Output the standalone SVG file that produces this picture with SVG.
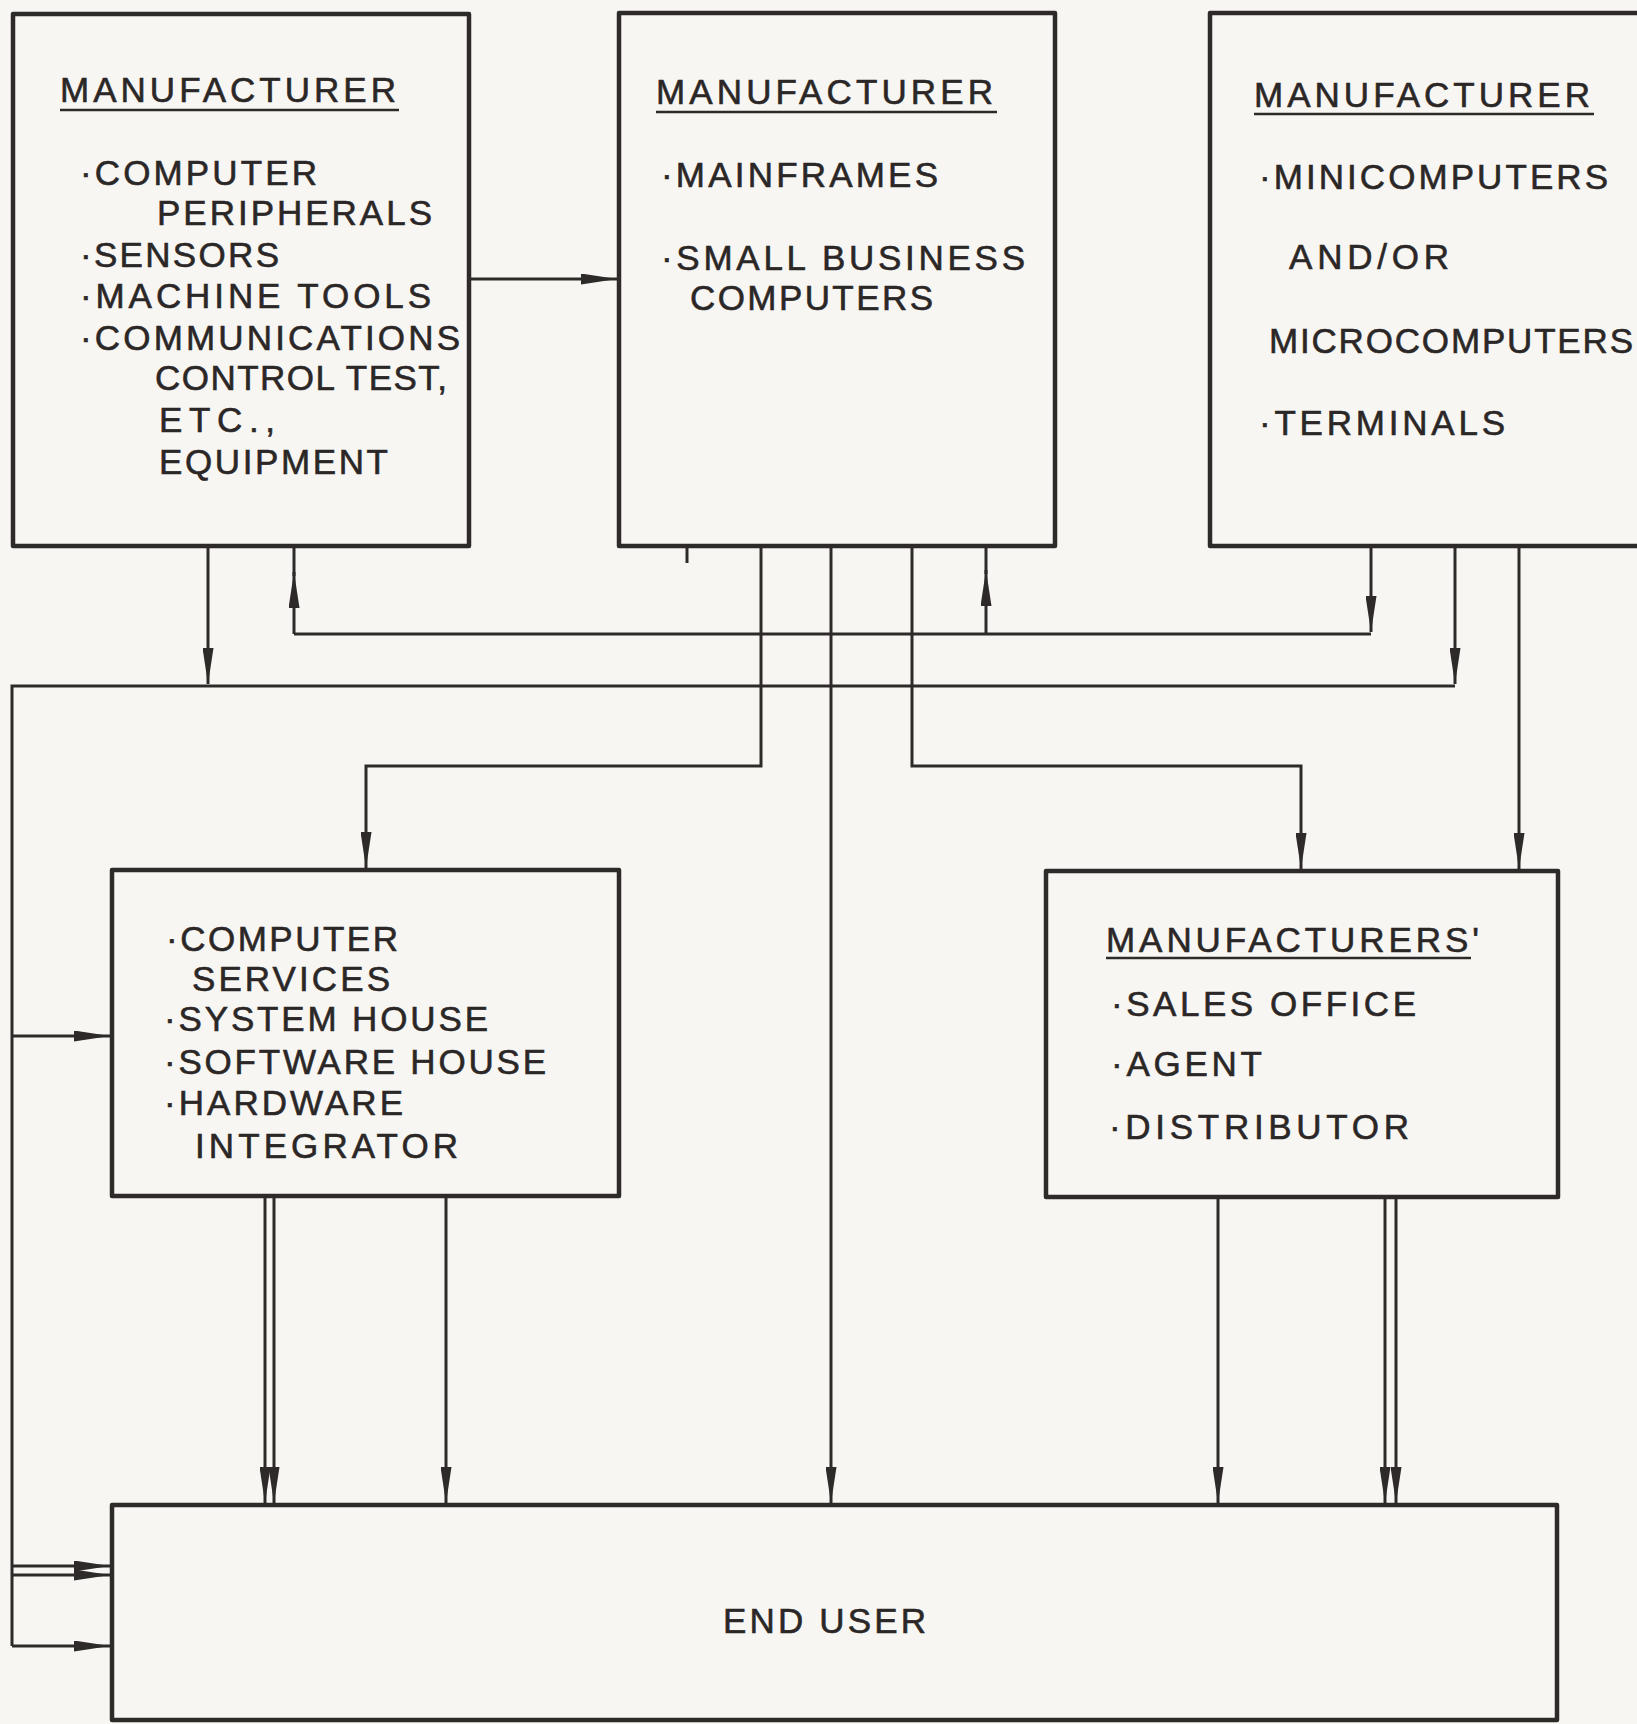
<svg xmlns="http://www.w3.org/2000/svg" width="1637" height="1724" viewBox="0 0 1637 1724">
<style>
.bg{fill:#f8f6f3}
.box{fill:none;stroke:#2e2a2a;stroke-width:4.5;stroke-linejoin:round}
.ln{fill:none;stroke:#2e2a2a;stroke-width:3}
.ul{stroke:#2e2a2a;stroke-width:2.5}
text{font-family:"Liberation Sans",Arial,sans-serif;font-size:35px;fill:#2b2727;stroke:#2b2727;stroke-width:0.6}
</style>
<defs>
<marker id="ah" viewBox="0 0 36 11" markerWidth="36" markerHeight="11" markerUnits="userSpaceOnUse" refX="36" refY="5.5" orient="auto">
<path d="M0,0 L36,5.5 L0,11 Z" fill="#2e2a2a"/>
</marker>
</defs>
<rect class="bg" x="0" y="0" width="1637" height="1724"/>

<g id="connectors">
<path class="ln" d="M469,279 L617,279" marker-end="url(#ah)"/>
<path class="ln" d="M208,546 L208,684" marker-end="url(#ah)"/>
<path class="ln" d="M1371,546 L1371,632" marker-end="url(#ah)"/>
<path class="ln" d="M1371,634 L294,634"/>
<path class="ln" d="M294,634 L294,572" marker-end="url(#ah)"/>
<path class="ln" d="M294,576 L294,546"/>
<path class="ln" d="M986,634 L986,570" marker-end="url(#ah)"/>
<path class="ln" d="M986,574 L986,546"/>
<path class="ln" d="M1455,546 L1455,684" marker-end="url(#ah)"/>
<path class="ln" d="M1455,686 L12,686 L12,1646"/>
<path class="ln" d="M12,1036 L110,1036" marker-end="url(#ah)"/>
<path class="ln" d="M12,1566 L110,1566" marker-end="url(#ah)"/>
<path class="ln" d="M12,1575 L110,1575" marker-end="url(#ah)"/>
<path class="ln" d="M12,1646 L110,1646" marker-end="url(#ah)"/>
<path class="ln" d="M761,546 L761,766 L366,766 L366,868" marker-end="url(#ah)"/>
<path class="ln" d="M831,546 L831,1503" marker-end="url(#ah)"/>
<path class="ln" d="M912,546 L912,766 L1301,766 L1301,869" marker-end="url(#ah)"/>
<path class="ln" d="M1519,546 L1519,869" marker-end="url(#ah)"/>
<path class="ln" d="M687,546 L687,563"/>
<path class="ln" d="M265,1196 L265,1503" marker-end="url(#ah)"/>
<path class="ln" d="M274,1196 L274,1503" marker-end="url(#ah)"/>
<path class="ln" d="M446,1196 L446,1503" marker-end="url(#ah)"/>
<path class="ln" d="M1218,1197 L1218,1503" marker-end="url(#ah)"/>
<path class="ln" d="M1385,1197 L1385,1503" marker-end="url(#ah)"/>
<path class="ln" d="M1396,1197 L1396,1503" marker-end="url(#ah)"/>
</g>

<g id="mfr-peripherals">
<rect class="box" x="13" y="14" width="456" height="532"/>
<text x="60" y="102" textLength="336" lengthAdjust="spacing">MANUFACTURER</text>
<line class="ul" x1="60" y1="110" x2="399" y2="110"/>
<text x="80" y="185" textLength="237" lengthAdjust="spacing">·COMPUTER</text>
<text x="157" y="225" textLength="275" lengthAdjust="spacing">PERIPHERALS</text>
<text x="80" y="267" textLength="199" lengthAdjust="spacing">·SENSORS</text>
<text x="80" y="308" textLength="351" lengthAdjust="spacing">·MACHINE TOOLS</text>
<text x="80" y="350" textLength="380" lengthAdjust="spacing">·COMMUNICATIONS</text>
<text x="155" y="390" textLength="292" lengthAdjust="spacing">CONTROL TEST,</text>
<text x="159" y="432" textLength="116" lengthAdjust="spacing">ETC.,</text>
<text x="159" y="474" textLength="229" lengthAdjust="spacing">EQUIPMENT</text>
</g>

<g id="mfr-mainframes">
<rect class="box" x="619" y="13" width="436" height="533"/>
<text x="656" y="104" textLength="337" lengthAdjust="spacing">MANUFACTURER</text>
<line class="ul" x1="656" y1="112" x2="997" y2="112"/>
<text x="661" y="187" textLength="277" lengthAdjust="spacing">·MAINFRAMES</text>
<text x="661" y="270" textLength="364" lengthAdjust="spacing">·SMALL BUSINESS</text>
<text x="690" y="310" textLength="243" lengthAdjust="spacing">COMPUTERS</text>
</g>

<g id="mfr-minicomputers">
<path class="box" d="M1650,13 L1210,13 L1210,546 L1650,546"/>
<text x="1254" y="107" textLength="336" lengthAdjust="spacing">MANUFACTURER</text>
<line class="ul" x1="1254" y1="114" x2="1594" y2="114"/>
<text x="1259" y="189" textLength="349" lengthAdjust="spacing">·MINICOMPUTERS</text>
<text x="1289" y="269" textLength="160" lengthAdjust="spacing">AND/OR</text>
<text x="1269" y="353" textLength="364" lengthAdjust="spacing">MICROCOMPUTERS</text>
<text x="1259" y="435" textLength="246" lengthAdjust="spacing">·TERMINALS</text>
</g>

<g id="services">
<rect class="box" x="112" y="870" width="507" height="326"/>
<text x="166" y="951" textLength="232" lengthAdjust="spacing">·COMPUTER</text>
<text x="192" y="991" textLength="198" lengthAdjust="spacing">SERVICES</text>
<text x="164" y="1031" textLength="324" lengthAdjust="spacing">·SYSTEM HOUSE</text>
<text x="164" y="1074" textLength="382" lengthAdjust="spacing">·SOFTWARE HOUSE</text>
<text x="164" y="1115" textLength="239" lengthAdjust="spacing">·HARDWARE</text>
<text x="195" y="1158" textLength="263" lengthAdjust="spacing">INTEGRATOR</text>
</g>

<g id="sales">
<rect class="box" x="1046" y="871" width="512" height="326"/>
<text x="1106" y="952" textLength="373" lengthAdjust="spacing">MANUFACTURERS'</text>
<line class="ul" x1="1106" y1="958" x2="1471" y2="958"/>
<text x="1111" y="1016" textLength="305" lengthAdjust="spacing">·SALES OFFICE</text>
<text x="1111" y="1076" textLength="151" lengthAdjust="spacing">·AGENT</text>
<text x="1109" y="1139" textLength="300" lengthAdjust="spacing">·DISTRIBUTOR</text>
</g>

<g id="end-user">
<rect class="box" x="112" y="1505" width="1445" height="215"/>
<text x="723" y="1633" textLength="203" lengthAdjust="spacing">END USER</text>
</g>
</svg>
